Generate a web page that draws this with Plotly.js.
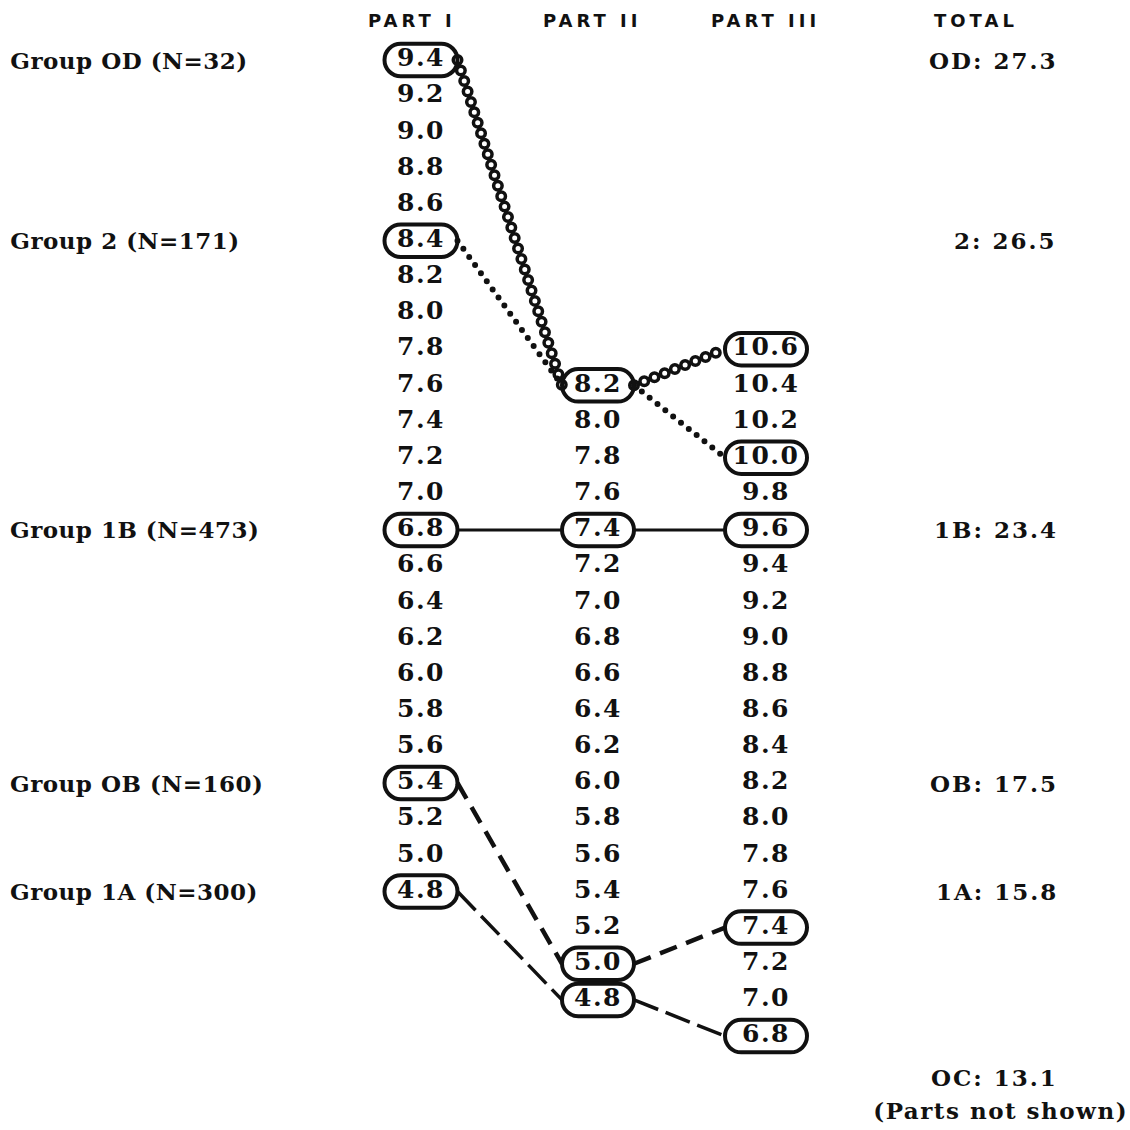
<!DOCTYPE html>
<html>
<head>
<meta charset="utf-8">
<script src="https://cdn.plot.ly/plotly-3.0.1.min.js"></script>
<style>
  html, body { margin: 0; padding: 0; background: #ffffff; }
  #chart { width: 1130px; height: 1130px; }
  .textpoint text { letter-spacing: 1.5px; }
  .scatterlayer > g.trace:nth-child(1) path.js-line,
  .scatterlayer > g.trace:nth-child(2) path.js-line,
  .scatterlayer > g.trace:nth-child(3) path.js-line { stroke-linecap: round; }
</style>
</head>
<body>
<div id="chart"></div>
<script>
// ---------------- DATA ----------------
const partI   = [9.4, 9.2, 9.0, 8.8, 8.6, 8.4, 8.2, 8.0, 7.8, 7.6, 7.4, 7.2, 7.0, 6.8, 6.6, 6.4, 6.2, 6.0, 5.8, 5.6, 5.4, 5.2, 5.0, 4.8];
const partII  = [8.2, 8.0, 7.8, 7.6, 7.4, 7.2, 7.0, 6.8, 6.6, 6.4, 6.2, 6.0, 5.8, 5.6, 5.4, 5.2, 5.0, 4.8];
const partIII = [10.6, 10.4, 10.2, 10.0, 9.8, 9.6, 9.4, 9.2, 9.0, 8.8, 8.6, 8.4, 8.2, 8.0, 7.8, 7.6, 7.4, 7.2, 7.0, 6.8];
const columnHeaders = ['PART I', 'PART II', 'PART III'];
const totalHeader = 'TOTAL';

const groupCodes   = ['OD', '2', '1B', 'OB', '1A'];
const groupN       = [32, 171, 473, 160, 300];
const groupPartI   = [9.4, 8.4, 6.8, 5.4, 4.8];
const groupPartII  = [8.2, 8.2, 7.4, 5.0, 4.8];
const groupPartIII = [10.6, 10.0, 9.6, 7.4, 6.8];
const groupTotal   = [27.3, 26.5, 23.4, 17.5, 15.8];

const otherCode  = 'OC';
const otherTotal = 13.1;
const otherNote  = '(Parts not shown)';

// ---------------- LAYOUT / STYLE CONFIG ----------------
const W = 1130, H = 1130;
const ROW_PX = 36.15, TOP_PX = 60;
const colX = [421, 598, 766];
const colStartRow = [0, 9, 8];
const boxHalfW = [36.5, 36, 41];
const boxHalfH = 0.45;
const labelX = 12, totalX = 1052, noteX = 1000;
const headerX = [412, 592, 765, 976];
const headerRow = -1.1;
const otherRow = 28.15, noteRow = 29.05;

const serif = { family: 'DejaVu Serif, serif', size: 23, weight: 700, color: '#111111' };
const numFont = { family: 'DejaVu Serif, serif', size: 25, weight: 700, color: '#111111' };
const headFont = { family: 'DejaVu Sans, sans-serif', size: 18, weight: 700, color: '#111111' };

const columns = [partI, partII, partIII];
function rowOf(c, v) {
  return colStartRow[c] + columns[c].findIndex(a => Math.abs(a - v) < 1e-6);
}

// line styles per group (first three traces get round caps via CSS)
const groupLineStyles = [
  [ { width: 12, dash: '0px,11px', color: '#111111' }, { width: 5, dash: '0px,11px', color: '#ffffff' } ],
  [ { width: 6, dash: '0px,10px', color: '#111111' } ],
  [ { width: 3, dash: 'solid', color: '#111111' } ],
  [ { width: 4.5, dash: '18px,10px', color: '#111111' } ],
  [ { width: 3.5, dash: '26px,8px', color: '#111111' } ]
];

// ---------------- TRACES ----------------
const traces = [];
groupCodes.forEach((code, g) => {
  const r1 = rowOf(0, groupPartI[g]);
  const r2 = rowOf(1, groupPartII[g]);
  const r3 = rowOf(2, groupPartIII[g]);
  const x = [colX[0] + boxHalfW[0], colX[1] - boxHalfW[1], null, colX[1] + boxHalfW[1], colX[2] - boxHalfW[2]];
  const y = [r1, r2, null, r2, r3];
  groupLineStyles[g].forEach(st => {
    traces.push({
      type: 'scatter', mode: 'lines', x: x, y: y,
      line: { color: st.color, width: st.width, dash: st.dash },
      connectgaps: false, hoverinfo: 'skip', showlegend: false
    });
  });
});

columns.forEach((vals, c) => {
  traces.push({
    type: 'scatter', mode: 'text',
    x: vals.map(() => colX[c]),
    y: vals.map((v, i) => colStartRow[c] + i),
    text: vals.map(v => v.toFixed(1)),
    textposition: 'middle center',
    textfont: numFont,
    hoverinfo: 'skip', showlegend: false
  });
});

// ---------------- SHAPES (rounded boxes) ----------------
function stadium(cx, cy, hw, hh) {
  const rx = hh * ROW_PX;
  const k = 0.5523;
  const ax = cx - hw + rx, bx = cx + hw - rx;
  const top = cy - hh, bot = cy + hh;
  return `M ${ax},${top} L ${bx},${top} ` +
    `C ${bx + k * rx},${top} ${cx + hw},${cy - k * hh} ${cx + hw},${cy} ` +
    `C ${cx + hw},${cy + k * hh} ${bx + k * rx},${bot} ${bx},${bot} ` +
    `L ${ax},${bot} ` +
    `C ${ax - k * rx},${bot} ${cx - hw},${cy + k * hh} ${cx - hw},${cy} ` +
    `C ${cx - hw},${cy - k * hh} ${ax - k * rx},${top} ${ax},${top} Z`;
}
const seen = new Set();
const shapes = [];
[groupPartI, groupPartII, groupPartIII].forEach((gv, c) => {
  gv.forEach(v => {
    const key = c + ':' + v.toFixed(1);
    if (seen.has(key)) return;
    seen.add(key);
    shapes.push({
      type: 'path', xref: 'x', yref: 'y',
      path: stadium(colX[c], rowOf(c, v), boxHalfW[c], boxHalfH),
      line: { color: '#111111', width: 4 }, fillcolor: 'rgba(0,0,0,0)', layer: 'above'
    });
  });
});

// ---------------- ANNOTATIONS ----------------
const annotations = [];
const spacingByIndex = {};
columnHeaders.concat([totalHeader]).forEach((t, i) => {
  spacingByIndex[annotations.length] = 4;
  annotations.push({ x: headerX[i], y: headerRow, xref: 'x', yref: 'y', text: t, showarrow: false,
    xanchor: 'center', yanchor: 'middle', font: headFont });
});
groupCodes.forEach((code, g) => {
  const r = rowOf(0, groupPartI[g]);
  spacingByIndex[annotations.length] = 0.5;
  annotations.push({ x: labelX, y: r, xref: 'x', yref: 'y', text: `Group ${code} (N=${groupN[g]})`,
    showarrow: false, xanchor: 'left', yanchor: 'middle', font: serif });
  spacingByIndex[annotations.length] = 2;
  annotations.push({ x: totalX, y: r, xref: 'x', yref: 'y', text: `${code}: ${groupTotal[g].toFixed(1)}`,
    showarrow: false, xanchor: 'right', yanchor: 'middle', font: serif });
});
spacingByIndex[annotations.length] = 2;
annotations.push({ x: totalX, y: otherRow, xref: 'x', yref: 'y', text: `${otherCode}: ${otherTotal.toFixed(1)}`,
  showarrow: false, xanchor: 'right', yanchor: 'middle', font: serif });
spacingByIndex[annotations.length] = 1.5;
annotations.push({ x: noteX, y: noteRow, xref: 'x', yref: 'y', text: otherNote,
  showarrow: false, xanchor: 'center', yanchor: 'middle', font: serif });

// per-annotation letter spacing (typewriter look)
const css = Object.keys(spacingByIndex).map(i =>
  `.annotation[data-index="${i}"] .annotation-text { letter-spacing: ${spacingByIndex[i]}px; }`).join('\n');
const styleEl = document.createElement('style');
styleEl.textContent = css;
document.head.appendChild(styleEl);

const layout = {
  width: W, height: H,
  margin: { l: 0, r: 0, t: 0, b: 0, pad: 0 },
  paper_bgcolor: '#ffffff', plot_bgcolor: '#ffffff',
  showlegend: false,
  xaxis: { range: [0, W], visible: false, fixedrange: true },
  yaxis: { range: [(H - TOP_PX) / ROW_PX, -TOP_PX / ROW_PX], visible: false, fixedrange: true },
  shapes: shapes,
  annotations: annotations
};

Plotly.newPlot('chart', traces, layout, { staticPlot: true, displayModeBar: false });
</script>
</body>
</html>
